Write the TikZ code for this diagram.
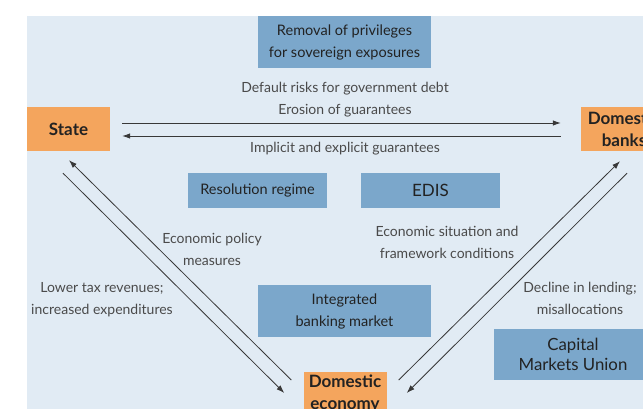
\documentclass[tikz,border=0pt]{standalone}
\usepackage{fontspec}
\setmainfont{Lato}
\usepackage{tikz}
\usetikzlibrary{arrows.meta,calc,positioning}
\definecolor{panelfill}{HTML}{E1EBF4}
\definecolor{actorfill}{HTML}{F4A55D}
\definecolor{reformfill}{HTML}{7BA7CB}
\definecolor{ink}{HTML}{222222}
\definecolor{labelink}{HTML}{4A4A4A}
\tikzset{
  actor/.style={
    fill=actorfill,
    align=center,
    text=ink,
    font=\fontsize{17}{22}\selectfont\bfseries,
    inner sep=0pt,
    minimum width=83pt,
    minimum height=44pt
  },
  reform/.style={
    fill=reformfill,
    align=center,
    text=ink,
    font=\fontsize{14.5}{22}\selectfont,
    inner sep=0pt
  },
  flow/.style={line width=0.8pt, draw=ink!90, -{Latex[length=8pt,width=5.5pt]}},
  flowlabel/.style={font=\fontsize{14}{22}\selectfont, text=labelink, align=center, inner sep=0pt}
}

\begin{document}
\begin{tikzpicture}[x=1pt,y=-1pt]
\useasboundingbox (0,0) rectangle (643,409);
\begin{scope}
\clip (0,0) rectangle (643,409);
\fill[panelfill] (27,16) rectangle (643,409);

% the three sectors
\node[actor] (state) at (68.5,129) {State};
\node[actor, minimum width=86pt] (banks) at (624,129) {Domestic\\banks};
\node[actor] (economy) at (345,394) {Domestic\\economy};

% reform boxes
\node[reform, minimum width=173pt, minimum height=52pt] (privileges) at (344.5,42) {Removal of privileges\\for sovereign exposures};
\node[reform, minimum width=139pt, minimum height=35pt] (resolution) at (257.5,190.5) {Resolution regime};
\node[reform, minimum width=139pt, minimum height=35pt, font=\fontsize{17}{20}\selectfont] (edis) at (430.5,190.5) {EDIS};
\node[reform, minimum width=173pt, minimum height=52pt] (integrated) at (344.5,311) {Integrated\\banking market};
\node[reform, minimum width=158pt, minimum height=51pt, font=\fontsize{16.8}{19.5}\selectfont] (cmu) at (573,354.5) {Capital\\Markets Union};

% state <-> banks
\draw[flow] ([shift={(12,-6)}]state.east) -- ([shift={(-20,-6)}]banks.west);
\draw[flow] ([shift={(-20,7)}]banks.west) -- ([shift={(12,7)}]state.east);
\node[flowlabel] (risks) at (345,99.5) {Default risks for government debt\\Erosion of guarantees};
\node[flowlabel] (guarantees) at (345,149) {Implicit and explicit guarantees};

% state <-> economy
\draw[flow] ([shift={(-5.5,22)}]state.south) -- ([shift={(-19,-1)}]economy.west);
\draw[flow] ([shift={(-12,-14)}]economy.west) -- ([shift={(0.5,9)}]state.south);
\node[flowlabel] (policy) at (212,249) {Economic policy\\measures};
\node[flowlabel] (tax) at (102,299.5) {Lower tax revenues;\\increased expenditures};

% economy <-> banks
\draw[flow] ([shift={(12,-14)}]economy.east) -- ([shift={(-4,10)}]banks.south);
\draw[flow] ([shift={(3,22)}]banks.south) -- ([shift={(20,-1)}]economy.east);
\node[flowlabel] (situation) at (447,242) {Economic situation and\\framework conditions};
\node[flowlabel] (lending) at (580,298.5) {Decline in lending;\\misallocations};
\end{scope}
\end{tikzpicture}
\end{document}
